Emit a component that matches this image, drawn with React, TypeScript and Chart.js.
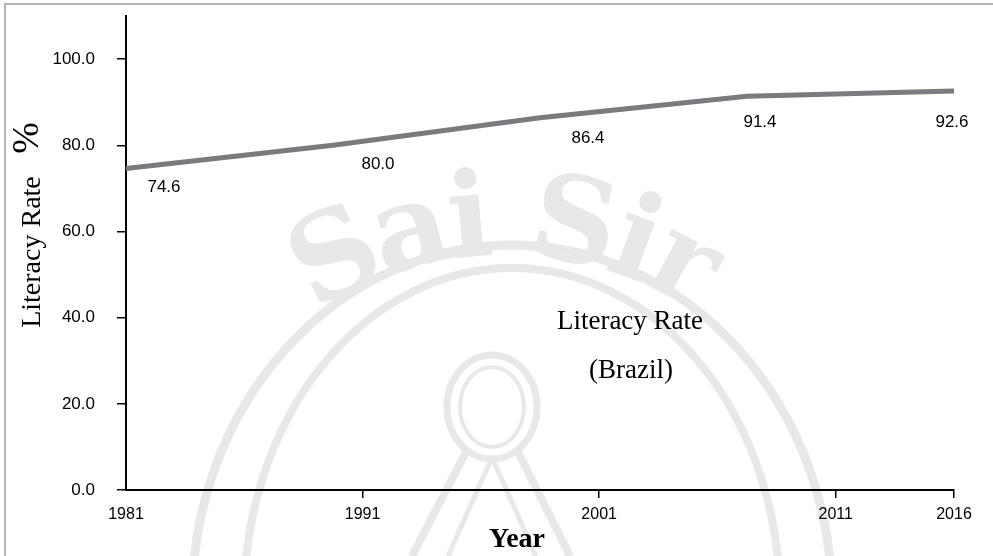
import { useEffect, useRef } from "react";
import { Chart, registerables } from "chart.js";

Chart.register(...registerables);

// ---- data ----
const yearLabels = ["1981", "1991", "2001", "2011", "2016"];
const yearValues = [1981, 1991, 2001, 2011, 2016];
const literacyRate = [74.6, 80.0, 86.4, 91.4, 92.6];
const yTickValues = [0, 20, 40, 60, 80, 100];
// label offsets (style), relative to each point
const labelShift = [
  [38, 19],
  [45, 19],
  [48, 21],
  [13, 26],
  [-2, 31],
];

const SANS = '"Liberation Sans", Arial, sans-serif';
const SERIF = '"Liberation Serif", "Times New Roman", serif';

const watermarkPlugin = {
  id: "watermark",
  beforeDraw(chart: any) {
    const ctx = chart.ctx as CanvasRenderingContext2D;
    ctx.save();
    const col = "#e8e8e8";
    ctx.strokeStyle = col;
    ctx.fillStyle = col;
    ctx.lineWidth = 9;
    ctx.beginPath();
    ctx.ellipse(512, 600, 320, 355, 0, 0, Math.PI * 2);
    ctx.stroke();
    ctx.lineWidth = 8;
    ctx.beginPath();
    ctx.ellipse(512, 600, 268, 332, 0, 0, Math.PI * 2);
    ctx.stroke();
    ctx.lineWidth = 7;
    ctx.beginPath();
    ctx.ellipse(492, 407, 45, 52, 0, 0, Math.PI * 2);
    ctx.stroke();
    ctx.lineWidth = 4;
    ctx.beginPath();
    ctx.ellipse(492, 407, 32, 40, 0, 0, Math.PI * 2);
    ctx.stroke();
    ctx.lineWidth = 8;
    ctx.beginPath();
    ctx.moveTo(466, 452);
    ctx.lineTo(412, 556);
    ctx.moveTo(518, 452);
    ctx.lineTo(570, 556);
    ctx.stroke();
    ctx.lineWidth = 5;
    ctx.beginPath();
    ctx.moveTo(490, 462);
    ctx.lineTo(448, 556);
    ctx.moveTo(494, 462);
    ctx.lineTo(536, 556);
    ctx.stroke();
    ctx.font = 'bold 118px "DejaVu Serif", serif';
    ctx.textAlign = "center";
    ctx.textBaseline = "alphabetic";
    const chars = Array.from("Sai Sir");
    const widths = chars.map((c) => ctx.measureText(c).width);
    const total = widths.reduce((a, b) => a + b, 0);
    const R = 345;
    const cx = 505;
    const cy = 600;
    let acc = 0;
    chars.forEach((c, i) => {
      const a = (acc + widths[i] / 2 - total / 2) / (R + 40);
      ctx.save();
      ctx.translate(cx, cy);
      ctx.rotate(a);
      ctx.fillText(c, 0, -R);
      ctx.restore();
      acc += widths[i];
    });
    ctx.restore();
  },
};

const annotationPlugin = {
  id: "annotations",
  afterDraw(chart: any) {
    const ctx = chart.ctx as CanvasRenderingContext2D;
    ctx.save();
    ctx.fillStyle = "#000";
    const meta = chart.getDatasetMeta(0);
    ctx.font = `17px ${SANS}`;
    ctx.textAlign = "center";
    ctx.textBaseline = "middle";
    meta.data.forEach((pt: any, i: number) => {
      const [dx, dy] = labelShift[i];
      ctx.fillText(literacyRate[i].toFixed(1), pt.x + dx, pt.y + dy);
    });
    ctx.font = `27px ${SERIF}`;
    ctx.fillText("Literacy Rate", 630, 322);
    ctx.fillText("(Brazil)", 631, 371);
    ctx.font = `bold 28px ${SERIF}`;
    ctx.textBaseline = "alphabetic";
    ctx.fillText("Year", 517, 547);
    ctx.save();
    ctx.translate(33, 252);
    ctx.rotate(-Math.PI / 2);
    ctx.textBaseline = "middle";
    ctx.font = `28px ${SERIF}`;
    ctx.fillText("Literacy Rate", 0, 0);
    ctx.restore();
    ctx.save();
    ctx.translate(28, 138);
    ctx.rotate(-Math.PI / 2);
    ctx.textBaseline = "middle";
    ctx.font = `38px ${SERIF}`;
    ctx.fillText("%", 0, 0);
    ctx.restore();
    ctx.restore();
  },
};

export default function App() {
  const ref = useRef<HTMLCanvasElement | null>(null);

  useEffect(() => {
    if (!ref.current) return;
    const chart = new Chart(ref.current, {
      type: "line",
      data: {
        labels: yearLabels,
        datasets: [
          {
            label: "Literacy Rate (Brazil)",
            data: literacyRate,
            xAxisID: "xc",
            yAxisID: "y",
            borderColor: "#7a7a7f",
            borderWidth: 5,
            pointRadius: 0,
            tension: 0,
            fill: false,
          },
        ],
      },
      options: {
        responsive: false,
        animation: false,
        layout: { autoPadding: false, padding: { top: 16, right: 39, left: 0, bottom: 0 } },
        plugins: {
          legend: { display: false },
          tooltip: { enabled: false },
        },
        scales: {
          xc: {
            type: "category",
            display: false,
            offset: false,
          },
          x: {
            type: "linear",
            position: "bottom",
            min: 1981,
            max: 2016,
            afterBuildTicks: (axis: any) => {
              axis.ticks = yearValues.map((v) => ({ value: v }));
            },
            afterFit: (s: any) => {
              s.height = 66;
              s.paddingLeft = 0;
              s.paddingRight = 0;
            },
            ticks: {
              autoSkip: false,
              maxRotation: 0,
              padding: 7,
              color: "#000",
              font: { family: SANS, size: 16 },
              callback: (v: any) => String(v),
            },
            grid: {
              drawOnChartArea: false,
              drawTicks: true,
              tickLength: 8,
              lineWidth: 1.5,
              color: (c: any) =>
                c.tick && c.tick.value === 1981 ? "rgba(0,0,0,0)" : "#000",
            },
            border: { display: true, color: "#000", width: 2 },
          },
          y: {
            type: "linear",
            min: 0,
            max: 110,
            afterBuildTicks: (axis: any) => {
              axis.ticks = yTickValues.map((v) => ({ value: v }));
            },
            afterFit: (s: any) => {
              s.width = 126;
              s.paddingTop = 0;
              s.paddingBottom = 0;
            },
            ticks: {
              padding: 22,
              color: "#000",
              font: { family: SANS, size: 17 },
              callback: (v: any) => Number(v).toFixed(1),
            },
            grid: {
              drawOnChartArea: false,
              drawTicks: true,
              tickLength: 9,
              lineWidth: 1.5,
              color: "#000",
            },
            border: { display: true, color: "#000", width: 2 },
          },
        },
      },
      plugins: [watermarkPlugin, annotationPlugin],
    } as any);
    return () => chart.destroy();
  }, []);

  return (
    <div
      style={{
        position: "fixed",
        left: 0,
        top: 0,
        width: 993,
        height: 556,
        background: "#fff",
        overflow: "hidden",
      }}
    >
      <canvas
        ref={ref}
        width={993}
        height={556}
        style={{ display: "block", width: 993, height: 556 }}
      />
      <div
        style={{
          position: "absolute",
          left: 4,
          top: 3,
          width: 989,
          height: 553,
          borderTop: "2px solid #b4b4b4",
          borderLeft: "2px solid #b4b4b4",
          boxSizing: "border-box",
          pointerEvents: "none",
        }}
      />
    </div>
  );
}
